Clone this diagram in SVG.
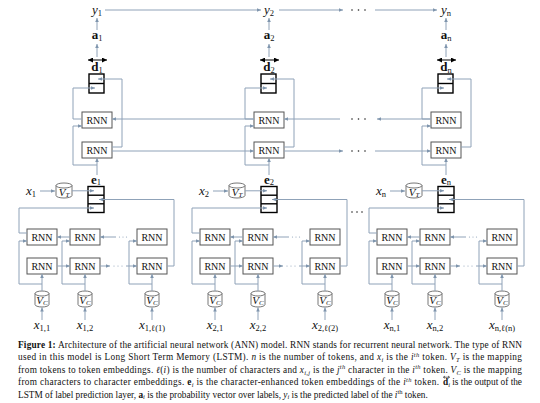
<svg xmlns="http://www.w3.org/2000/svg" width="540" height="403" viewBox="0 0 540 403">
<defs>
<marker id="ah" viewBox="0 0 6 6" refX="6" refY="3" markerWidth="4.5" markerHeight="4" markerUnits="userSpaceOnUse" orient="auto"><path d="M0,0.3 L6,3 L0,5.7 z" fill="#7f95ad"/></marker>
<marker id="bh" viewBox="0 0 6 6" refX="6" refY="3" markerWidth="5" markerHeight="5" markerUnits="userSpaceOnUse" orient="auto-start-reverse"><path d="M0,0 L6,3 L0,6 z" fill="#000"/></marker>
<style>
.ln{fill:none;stroke:#8fa2b8;stroke-width:1}
.ar{marker-end:url(#ah)}
.bx{fill:#fff;stroke:#555;stroke-width:1}
.vb{fill:#fff;stroke:#000;stroke-width:1.4}
.dv{stroke:#000;stroke-width:1.4}
.cy{fill:#fff;stroke:#666;stroke-width:0.9}
.t{font-family:"Liberation Serif","Times New Roman",serif;fill:#111}
.rn{font-size:10px;text-anchor:middle}
.lb{font-size:13px;text-anchor:middle}
.it{font-style:italic}
.bd{font-weight:bold}
.nb{font-weight:normal}
.sb{font-size:8.5px}
.cs{font-size:6.5px}
.cap{font-size:9.3px}
.dt{fill:#222}
.dl{fill:#8fa2b8}
</style>
</defs>

<!-- ===== TOP SECTION NODES ===== -->
<g id="top-col-1">
 <g id="y1"><text class="t lb" x="97" y="14"><tspan class="it">y</tspan><tspan class="sb" dy="2">1</tspan></text></g>
 <g id="a1"><text class="t lb bd" x="97" y="39">a<tspan class="sb nb" dy="2">1</tspan></text></g>
 <g id="d1"><text class="t lb bd" x="97" y="71">d<tspan class="sb nb" dy="1.5">1</tspan></text><rect class="vb" x="89" y="74" width="15" height="19"/><line class="dv" x1="89" y1="83.5" x2="104" y2="83.5"/></g>
 <g id="rnn-b-1"><rect class="bx" x="82" y="112" width="30" height="16"/><text class="t rn" x="97" y="123.5">RNN</text></g>
 <g id="rnn-f-1"><rect class="bx" x="82" y="142" width="30" height="16"/><text class="t rn" x="97" y="153.5">RNN</text></g>
</g>
<g id="top-col-2" transform="translate(172,0)">
 <g id="y2"><text class="t lb" x="97" y="14"><tspan class="it">y</tspan><tspan class="sb" dy="2">2</tspan></text></g>
 <g id="a2"><text class="t lb bd" x="97" y="39">a<tspan class="sb nb" dy="2">2</tspan></text></g>
 <g id="d2"><text class="t lb bd" x="97" y="71">d<tspan class="sb nb" dy="1.5">2</tspan></text><rect class="vb" x="89" y="74" width="15" height="19"/><line class="dv" x1="89" y1="83.5" x2="104" y2="83.5"/></g>
 <g id="rnn-b-2"><rect class="bx" x="82" y="112" width="30" height="16"/><text class="t rn" x="97" y="123.5">RNN</text></g>
 <g id="rnn-f-2"><rect class="bx" x="82" y="142" width="30" height="16"/><text class="t rn" x="97" y="153.5">RNN</text></g>
</g>
<g id="top-col-n" transform="translate(349,0)">
 <g id="yn"><text class="t lb" x="97" y="14"><tspan class="it">y</tspan><tspan class="sb" dy="2">n</tspan></text></g>
 <g id="an"><text class="t lb bd" x="97" y="39">a<tspan class="sb nb" dy="2">n</tspan></text></g>
 <g id="dn"><text class="t lb bd" x="97" y="71">d<tspan class="sb nb" dy="1.5">n</tspan></text><rect class="vb" x="89" y="74" width="15" height="19"/><line class="dv" x1="89" y1="83.5" x2="104" y2="83.5"/></g>
 <g id="rnn-b-n"><rect class="bx" x="82" y="112" width="30" height="16"/><text class="t rn" x="97" y="123.5">RNN</text></g>
 <g id="rnn-f-n"><rect class="bx" x="82" y="142" width="30" height="16"/><text class="t rn" x="97" y="153.5">RNN</text></g>
</g>

<!-- ===== BOTTOM SECTION NODES ===== -->
<g id="tok-1">
 <g id="x1"><text class="t lb" x="31" y="195"><tspan class="it">x</tspan><tspan class="sb" dy="2">1</tspan></text></g>
 <g id="vt-1"><path class="cy" d="M56,185.5 A8,2.5 0 0 1 72,185.5 V195.5 A8,2.5 0 0 1 56,195.5 Z M56,185.5 A8,2.5 0 0 0 72,185.5"/><text class="t it" x="64" y="195.5" text-anchor="middle" font-size="11">V<tspan font-size="7" dy="1.5">T</tspan></text></g>
 <g id="e1"><text class="t lb bd" x="96" y="183.5">e<tspan class="sb nb" dy="1.5">1</tspan></text><rect class="vb" x="88" y="186.5" width="16" height="26"/><line class="dv" x1="88" y1="195.2" x2="104" y2="195.2"/><line class="dv" x1="88" y1="203.8" x2="104" y2="203.8"/></g>
 <g id="cb-1-1"><rect class="bx" x="27" y="229" width="30" height="16"/><text class="t rn" x="42" y="240.5">RNN</text></g>
 <g id="cb-1-2"><rect class="bx" x="70" y="229" width="30" height="16"/><text class="t rn" x="85" y="240.5">RNN</text></g>
 <g id="cb-1-l"><rect class="bx" x="137" y="229" width="30" height="16"/><text class="t rn" x="152" y="240.5">RNN</text></g>
 <g id="cf-1-1"><rect class="bx" x="27" y="258" width="30" height="16"/><text class="t rn" x="42" y="269.5">RNN</text></g>
 <g id="cf-1-2"><rect class="bx" x="70" y="258" width="30" height="16"/><text class="t rn" x="85" y="269.5">RNN</text></g>
 <g id="cf-1-l"><rect class="bx" x="137" y="258" width="30" height="16"/><text class="t rn" x="152" y="269.5">RNN</text></g>
 <g id="vc-1-1"><path class="cy" d="M35,293.5 A7,2.5 0 0 1 49,293.5 V304.5 A7,2.5 0 0 1 35,304.5 Z M35,293.5 A7,2.5 0 0 0 49,293.5"/><text class="t it" x="42" y="303.5" text-anchor="middle" font-size="11">V<tspan font-size="7" dy="1.5">C</tspan></text></g>
 <g id="vc-1-2"><path class="cy" d="M78,293.5 A7,2.5 0 0 1 92,293.5 V304.5 A7,2.5 0 0 1 78,304.5 Z M78,293.5 A7,2.5 0 0 0 92,293.5"/><text class="t it" x="85" y="303.5" text-anchor="middle" font-size="11">V<tspan font-size="7" dy="1.5">C</tspan></text></g>
 <g id="vc-1-l"><path class="cy" d="M145,293.5 A7,2.5 0 0 1 159,293.5 V304.5 A7,2.5 0 0 1 145,304.5 Z M145,293.5 A7,2.5 0 0 0 159,293.5"/><text class="t it" x="152" y="303.5" text-anchor="middle" font-size="11">V<tspan font-size="7" dy="1.5">C</tspan></text></g>
 <g id="x-1-1"><text class="t lb" x="42" y="329"><tspan class="it">x</tspan><tspan class="sb" dy="2">1,1</tspan></text></g>
 <g id="x-1-2"><text class="t lb" x="85" y="329"><tspan class="it">x</tspan><tspan class="sb" dy="2">1,2</tspan></text></g>
 <g id="x-1-l"><text class="t lb" x="152" y="329"><tspan class="it">x</tspan><tspan class="sb" dy="2">1,ℓ(1)</tspan></text></g>
</g>
<g id="tok-2" transform="translate(173,0)">
 <g id="x2"><text class="t lb" x="31" y="195"><tspan class="it">x</tspan><tspan class="sb" dy="2">2</tspan></text></g>
 <g id="vt-2"><path class="cy" d="M56,185.5 A8,2.5 0 0 1 72,185.5 V195.5 A8,2.5 0 0 1 56,195.5 Z M56,185.5 A8,2.5 0 0 0 72,185.5"/><text class="t it" x="64" y="195.5" text-anchor="middle" font-size="11">V<tspan font-size="7" dy="1.5">T</tspan></text></g>
 <g id="e2"><text class="t lb bd" x="96" y="183.5">e<tspan class="sb nb" dy="1.5">2</tspan></text><rect class="vb" x="88" y="186.5" width="16" height="26"/><line class="dv" x1="88" y1="195.2" x2="104" y2="195.2"/><line class="dv" x1="88" y1="203.8" x2="104" y2="203.8"/></g>
 <g id="cb-2-1"><rect class="bx" x="27" y="229" width="30" height="16"/><text class="t rn" x="42" y="240.5">RNN</text></g>
 <g id="cb-2-2"><rect class="bx" x="70" y="229" width="30" height="16"/><text class="t rn" x="85" y="240.5">RNN</text></g>
 <g id="cb-2-l"><rect class="bx" x="137" y="229" width="30" height="16"/><text class="t rn" x="152" y="240.5">RNN</text></g>
 <g id="cf-2-1"><rect class="bx" x="27" y="258" width="30" height="16"/><text class="t rn" x="42" y="269.5">RNN</text></g>
 <g id="cf-2-2"><rect class="bx" x="70" y="258" width="30" height="16"/><text class="t rn" x="85" y="269.5">RNN</text></g>
 <g id="cf-2-l"><rect class="bx" x="137" y="258" width="30" height="16"/><text class="t rn" x="152" y="269.5">RNN</text></g>
 <g id="vc-2-1"><path class="cy" d="M35,293.5 A7,2.5 0 0 1 49,293.5 V304.5 A7,2.5 0 0 1 35,304.5 Z M35,293.5 A7,2.5 0 0 0 49,293.5"/><text class="t it" x="42" y="303.5" text-anchor="middle" font-size="11">V<tspan font-size="7" dy="1.5">C</tspan></text></g>
 <g id="vc-2-2"><path class="cy" d="M78,293.5 A7,2.5 0 0 1 92,293.5 V304.5 A7,2.5 0 0 1 78,304.5 Z M78,293.5 A7,2.5 0 0 0 92,293.5"/><text class="t it" x="85" y="303.5" text-anchor="middle" font-size="11">V<tspan font-size="7" dy="1.5">C</tspan></text></g>
 <g id="vc-2-l"><path class="cy" d="M145,293.5 A7,2.5 0 0 1 159,293.5 V304.5 A7,2.5 0 0 1 145,304.5 Z M145,293.5 A7,2.5 0 0 0 159,293.5"/><text class="t it" x="152" y="303.5" text-anchor="middle" font-size="11">V<tspan font-size="7" dy="1.5">C</tspan></text></g>
 <g id="x-2-1"><text class="t lb" x="42" y="329"><tspan class="it">x</tspan><tspan class="sb" dy="2">2,1</tspan></text></g>
 <g id="x-2-2"><text class="t lb" x="85" y="329"><tspan class="it">x</tspan><tspan class="sb" dy="2">2,2</tspan></text></g>
 <g id="x-2-l"><text class="t lb" x="152" y="329"><tspan class="it">x</tspan><tspan class="sb" dy="2">2,ℓ(2)</tspan></text></g>
</g>
<g id="tok-n" transform="translate(350,0)">
 <g id="xn"><text class="t lb" x="31" y="195"><tspan class="it">x</tspan><tspan class="sb" dy="2">n</tspan></text></g>
 <g id="vt-n"><path class="cy" d="M56,185.5 A8,2.5 0 0 1 72,185.5 V195.5 A8,2.5 0 0 1 56,195.5 Z M56,185.5 A8,2.5 0 0 0 72,185.5"/><text class="t it" x="64" y="195.5" text-anchor="middle" font-size="11">V<tspan font-size="7" dy="1.5">T</tspan></text></g>
 <g id="en"><text class="t lb bd" x="96" y="183.5">e<tspan class="sb nb" dy="1.5">n</tspan></text><rect class="vb" x="88" y="186.5" width="16" height="26"/><line class="dv" x1="88" y1="195.2" x2="104" y2="195.2"/><line class="dv" x1="88" y1="203.8" x2="104" y2="203.8"/></g>
 <g id="cb-n-1"><rect class="bx" x="27" y="229" width="30" height="16"/><text class="t rn" x="42" y="240.5">RNN</text></g>
 <g id="cb-n-2"><rect class="bx" x="70" y="229" width="30" height="16"/><text class="t rn" x="85" y="240.5">RNN</text></g>
 <g id="cb-n-l"><rect class="bx" x="137" y="229" width="30" height="16"/><text class="t rn" x="152" y="240.5">RNN</text></g>
 <g id="cf-n-1"><rect class="bx" x="27" y="258" width="30" height="16"/><text class="t rn" x="42" y="269.5">RNN</text></g>
 <g id="cf-n-2"><rect class="bx" x="70" y="258" width="30" height="16"/><text class="t rn" x="85" y="269.5">RNN</text></g>
 <g id="cf-n-l"><rect class="bx" x="137" y="258" width="30" height="16"/><text class="t rn" x="152" y="269.5">RNN</text></g>
 <g id="vc-n-1"><path class="cy" d="M35,293.5 A7,2.5 0 0 1 49,293.5 V304.5 A7,2.5 0 0 1 35,304.5 Z M35,293.5 A7,2.5 0 0 0 49,293.5"/><text class="t it" x="42" y="303.5" text-anchor="middle" font-size="11">V<tspan font-size="7" dy="1.5">C</tspan></text></g>
 <g id="vc-n-2"><path class="cy" d="M78,293.5 A7,2.5 0 0 1 92,293.5 V304.5 A7,2.5 0 0 1 78,304.5 Z M78,293.5 A7,2.5 0 0 0 92,293.5"/><text class="t it" x="85" y="303.5" text-anchor="middle" font-size="11">V<tspan font-size="7" dy="1.5">C</tspan></text></g>
 <g id="vc-n-l"><path class="cy" d="M145,293.5 A7,2.5 0 0 1 159,293.5 V304.5 A7,2.5 0 0 1 145,304.5 Z M145,293.5 A7,2.5 0 0 0 159,293.5"/><text class="t it" x="152" y="303.5" text-anchor="middle" font-size="11">V<tspan font-size="7" dy="1.5">C</tspan></text></g>
 <g id="x-n-1"><text class="t lb" x="42" y="329"><tspan class="it">x</tspan><tspan class="sb" dy="2">n,1</tspan></text></g>
 <g id="x-n-2"><text class="t lb" x="85" y="329"><tspan class="it">x</tspan><tspan class="sb" dy="2">n,2</tspan></text></g>
 <g id="x-n-l"><text class="t lb" x="152" y="329"><tspan class="it">x</tspan><tspan class="sb" dy="2">n,ℓ(n)</tspan></text></g>
</g>

<!-- ===== CONNECTORS ===== -->
<g id="connectors">
 <g id="conn-top-1">
  <line class="ln ar" x1="97" y1="30" x2="97" y2="18"/>
  <line class="ln ar" x1="97" y1="57" x2="97" y2="44"/>
  <line x1="88" y1="60" x2="107" y2="60" stroke="#000" stroke-width="1" marker-start="url(#bh)" marker-end="url(#bh)"/>
  <polyline class="ln ar" points="82,119 73,119 73,88 95,88"/>
  <polyline class="ln ar" points="112,147 122,147 122,79 98,79"/>
  <polyline class="ln ar" points="97,165 73,165 73,126 82,126"/>
  <line class="ln ar" x1="97" y1="175" x2="97" y2="158"/>
 </g>
 <g id="conn-top-2" transform="translate(172,0)">
  <line class="ln ar" x1="97" y1="30" x2="97" y2="18"/>
  <line class="ln ar" x1="97" y1="57" x2="97" y2="44"/>
  <line x1="88" y1="60" x2="107" y2="60" stroke="#000" stroke-width="1" marker-start="url(#bh)" marker-end="url(#bh)"/>
  <polyline class="ln ar" points="82,119 73,119 73,88 95,88"/>
  <polyline class="ln ar" points="112,147 122,147 122,79 98,79"/>
  <polyline class="ln ar" points="97,165 73,165 73,126 82,126"/>
  <line class="ln ar" x1="97" y1="175" x2="97" y2="158"/>
 </g>
 <g id="conn-top-n" transform="translate(349,0)">
  <line class="ln ar" x1="97" y1="30" x2="97" y2="18"/>
  <line class="ln ar" x1="97" y1="57" x2="97" y2="44"/>
  <line x1="88" y1="60" x2="107" y2="60" stroke="#000" stroke-width="1" marker-start="url(#bh)" marker-end="url(#bh)"/>
  <polyline class="ln ar" points="82,119 73,119 73,88 95,88"/>
  <polyline class="ln ar" points="112,147 122,147 122,79 98,79"/>
  <polyline class="ln ar" points="97,165 73,165 73,126 82,126"/>
  <line class="ln ar" x1="97" y1="175" x2="97" y2="158"/>
 </g>
 <g id="chain-y">
  <line class="ln ar" x1="105" y1="10" x2="261" y2="10"/>
  <line class="ln ar" x1="279" y1="10" x2="343" y2="10"/>
  <circle class="dt" cx="352" cy="10" r="0.8"/><circle class="dt" cx="358.5" cy="10" r="0.8"/><circle class="dt" cx="365" cy="10" r="0.8"/>
  <line class="ln ar" x1="375" y1="10" x2="437" y2="10"/>
 </g>
 <g id="chain-word-bw">
  <line class="ln ar" x1="254" y1="119" x2="112" y2="119"/>
  <line class="ln ar" x1="340" y1="119" x2="284" y2="119"/>
  <circle class="dt" cx="352" cy="119" r="0.8"/><circle class="dt" cx="358.5" cy="119" r="0.8"/><circle class="dt" cx="365" cy="119" r="0.8"/>
  <line class="ln ar" x1="431" y1="119" x2="377" y2="119"/>
 </g>
 <g id="chain-word-fw">
  <line class="ln ar" x1="112" y1="151" x2="254" y2="151"/>
  <line class="ln ar" x1="284" y1="151" x2="343" y2="151"/>
  <circle class="dt" cx="352" cy="151" r="0.8"/><circle class="dt" cx="358.5" cy="151" r="0.8"/><circle class="dt" cx="365" cy="151" r="0.8"/>
  <line class="ln ar" x1="375" y1="151" x2="431" y2="151"/>
 </g>
 <g id="conn-tok-1">
  <line class="ln ar" x1="40" y1="191" x2="55" y2="191"/>
  <line class="ln ar" x1="72" y1="190.8" x2="94" y2="190.8"/>
  <polyline class="ln ar" points="167,266 174,266 174,199.5 99,199.5"/>
  <polyline class="ln ar" points="27,233 19,233 19,208 94,208"/>
  <line class="ln ar" x1="42" y1="291" x2="42" y2="274"/><polyline class="ln ar" points="42,284 19,284 19,241 27,241"/><line class="ln ar" x1="42" y1="320" x2="42" y2="307.5"/>
  <line class="ln ar" x1="85" y1="291" x2="85" y2="274"/><polyline class="ln ar" points="85,284 62,284 62,241 70,241"/><line class="ln ar" x1="85" y1="320" x2="85" y2="307.5"/>
  <line class="ln ar" x1="152" y1="291" x2="152" y2="274"/><polyline class="ln ar" points="152,284 129,284 129,241 137,241"/><line class="ln ar" x1="152" y1="320" x2="152" y2="307.5"/>
  <line class="ln ar" x1="70" y1="237" x2="57" y2="237"/>
  <line class="ln ar" x1="116" y1="237" x2="100" y2="237"/>
  <circle class="dl" cx="119.5" cy="237" r="0.6"/><circle class="dl" cx="123" cy="237" r="0.6"/><circle class="dl" cx="126.5" cy="237" r="0.6"/>
  <line class="ln ar" x1="57" y1="266" x2="70" y2="266"/>
  <line class="ln ar" x1="100" y1="266" x2="110" y2="266"/>
  <circle class="dl" cx="114" cy="266" r="0.6"/><circle class="dl" cx="118" cy="266" r="0.6"/><circle class="dl" cx="122" cy="266" r="0.6"/>
  <line class="ln ar" x1="126" y1="266" x2="137" y2="266"/>
 </g>
 <g id="conn-tok-2" transform="translate(173,0)">
  <line class="ln ar" x1="40" y1="191" x2="55" y2="191"/>
  <line class="ln ar" x1="72" y1="190.8" x2="94" y2="190.8"/>
  <polyline class="ln ar" points="167,266 174,266 174,199.5 99,199.5"/>
  <polyline class="ln ar" points="27,233 19,233 19,208 94,208"/>
  <line class="ln ar" x1="42" y1="291" x2="42" y2="274"/><polyline class="ln ar" points="42,284 19,284 19,241 27,241"/><line class="ln ar" x1="42" y1="320" x2="42" y2="307.5"/>
  <line class="ln ar" x1="85" y1="291" x2="85" y2="274"/><polyline class="ln ar" points="85,284 62,284 62,241 70,241"/><line class="ln ar" x1="85" y1="320" x2="85" y2="307.5"/>
  <line class="ln ar" x1="152" y1="291" x2="152" y2="274"/><polyline class="ln ar" points="152,284 129,284 129,241 137,241"/><line class="ln ar" x1="152" y1="320" x2="152" y2="307.5"/>
  <line class="ln ar" x1="70" y1="237" x2="57" y2="237"/>
  <line class="ln ar" x1="116" y1="237" x2="100" y2="237"/>
  <circle class="dl" cx="119.5" cy="237" r="0.6"/><circle class="dl" cx="123" cy="237" r="0.6"/><circle class="dl" cx="126.5" cy="237" r="0.6"/>
  <line class="ln ar" x1="57" y1="266" x2="70" y2="266"/>
  <line class="ln ar" x1="100" y1="266" x2="110" y2="266"/>
  <circle class="dl" cx="114" cy="266" r="0.6"/><circle class="dl" cx="118" cy="266" r="0.6"/><circle class="dl" cx="122" cy="266" r="0.6"/>
  <line class="ln ar" x1="126" y1="266" x2="137" y2="266"/>
 </g>
 <g id="conn-tok-n" transform="translate(350,0)">
  <line class="ln ar" x1="40" y1="191" x2="55" y2="191"/>
  <line class="ln ar" x1="72" y1="190.8" x2="94" y2="190.8"/>
  <polyline class="ln ar" points="167,266 174,266 174,199.5 99,199.5"/>
  <polyline class="ln ar" points="27,233 19,233 19,208 94,208"/>
  <line class="ln ar" x1="42" y1="291" x2="42" y2="274"/><polyline class="ln ar" points="42,284 19,284 19,241 27,241"/><line class="ln ar" x1="42" y1="320" x2="42" y2="307.5"/>
  <line class="ln ar" x1="85" y1="291" x2="85" y2="274"/><polyline class="ln ar" points="85,284 62,284 62,241 70,241"/><line class="ln ar" x1="85" y1="320" x2="85" y2="307.5"/>
  <line class="ln ar" x1="152" y1="291" x2="152" y2="274"/><polyline class="ln ar" points="152,284 129,284 129,241 137,241"/><line class="ln ar" x1="152" y1="320" x2="152" y2="307.5"/>
  <line class="ln ar" x1="70" y1="237" x2="57" y2="237"/>
  <line class="ln ar" x1="116" y1="237" x2="100" y2="237"/>
  <circle class="dl" cx="119.5" cy="237" r="0.6"/><circle class="dl" cx="123" cy="237" r="0.6"/><circle class="dl" cx="126.5" cy="237" r="0.6"/>
  <line class="ln ar" x1="57" y1="266" x2="70" y2="266"/>
  <line class="ln ar" x1="100" y1="266" x2="110" y2="266"/>
  <circle class="dl" cx="114" cy="266" r="0.6"/><circle class="dl" cx="118" cy="266" r="0.6"/><circle class="dl" cx="122" cy="266" r="0.6"/>
  <line class="ln ar" x1="126" y1="266" x2="137" y2="266"/>
 </g>
 <g id="dots-tokens">
  <circle class="dt" cx="352" cy="212" r="0.8"/><circle class="dt" cx="357" cy="212" r="0.8"/><circle class="dt" cx="362" cy="212" r="0.8"/>
 </g>
</g>

<!-- ===== CAPTION ===== -->
<g id="caption" class="t cap">
 <text x="18" y="348" textLength="504" lengthAdjust="spacing"><tspan class="bd">Figure 1:</tspan> Architecture of the artificial neural network (ANN) model. RNN stands for recurrent neural network. The type of RNN</text>
 <text x="18" y="360.4" textLength="504" lengthAdjust="spacing">used in this model is Long Short Term Memory (LSTM). <tspan class="it">n</tspan> is the number of tokens, and <tspan class="it">x</tspan><tspan class="it cs" dy="1.8">i</tspan><tspan dy="-1.8"> is the </tspan><tspan class="it">i</tspan><tspan class="it cs" dy="-3.5">th</tspan><tspan dy="3.5"> token. </tspan><tspan class="it">V</tspan><tspan class="it cs" dy="1.8">T</tspan><tspan dy="-1.8"> is the mapping</tspan></text>
 <text x="18" y="372.8" textLength="504" lengthAdjust="spacing">from tokens to token embeddings. <tspan class="it">ℓ</tspan>(<tspan class="it">i</tspan>) is the number of characters and <tspan class="it">x</tspan><tspan class="it cs" dy="1.8">i,j</tspan><tspan dy="-1.8"> is the </tspan><tspan class="it">j</tspan><tspan class="it cs" dy="-3.5">th</tspan><tspan dy="3.5"> character in the </tspan><tspan class="it">i</tspan><tspan class="it cs" dy="-3.5">th</tspan><tspan dy="3.5"> token. </tspan><tspan class="it">V</tspan><tspan class="it cs" dy="1.8">C</tspan><tspan dy="-1.8"> is the mapping</tspan></text>
 <text x="18" y="385.2" textLength="421" lengthAdjust="spacing">from characters to character embeddings. <tspan class="bd">e</tspan><tspan class="it cs" dy="1.8">i</tspan><tspan dy="-1.8"> is the character-enhanced token embeddings of the </tspan><tspan class="it">i</tspan><tspan class="it cs" dy="-3.5">th</tspan><tspan dy="3.5"> token.</tspan></text>
 <text x="522" y="385.2" text-anchor="end"><tspan class="bd">d</tspan><tspan class="it cs" dy="1.8">i</tspan><tspan dy="-1.8"> is the output of the</tspan></text>
 <path d="M443.6,377.2 H449.4 M445,376 L443.4,377.2 L445,378.4 M448,376 L449.6,377.2 L448,378.4" fill="none" stroke="#111" stroke-width="0.6"/>
 <text x="18" y="397.6">LSTM of label prediction layer, <tspan class="bd">a</tspan><tspan class="it cs" dy="1.8">i</tspan><tspan dy="-1.8"> is the probability vector over labels, </tspan><tspan class="it">y</tspan><tspan class="it cs" dy="1.8">i</tspan><tspan dy="-1.8"> is the predicted label of the </tspan><tspan class="it">i</tspan><tspan class="cs" dy="-3.5">th</tspan><tspan dy="3.5"> token.</tspan></text>
</g>
</svg>
